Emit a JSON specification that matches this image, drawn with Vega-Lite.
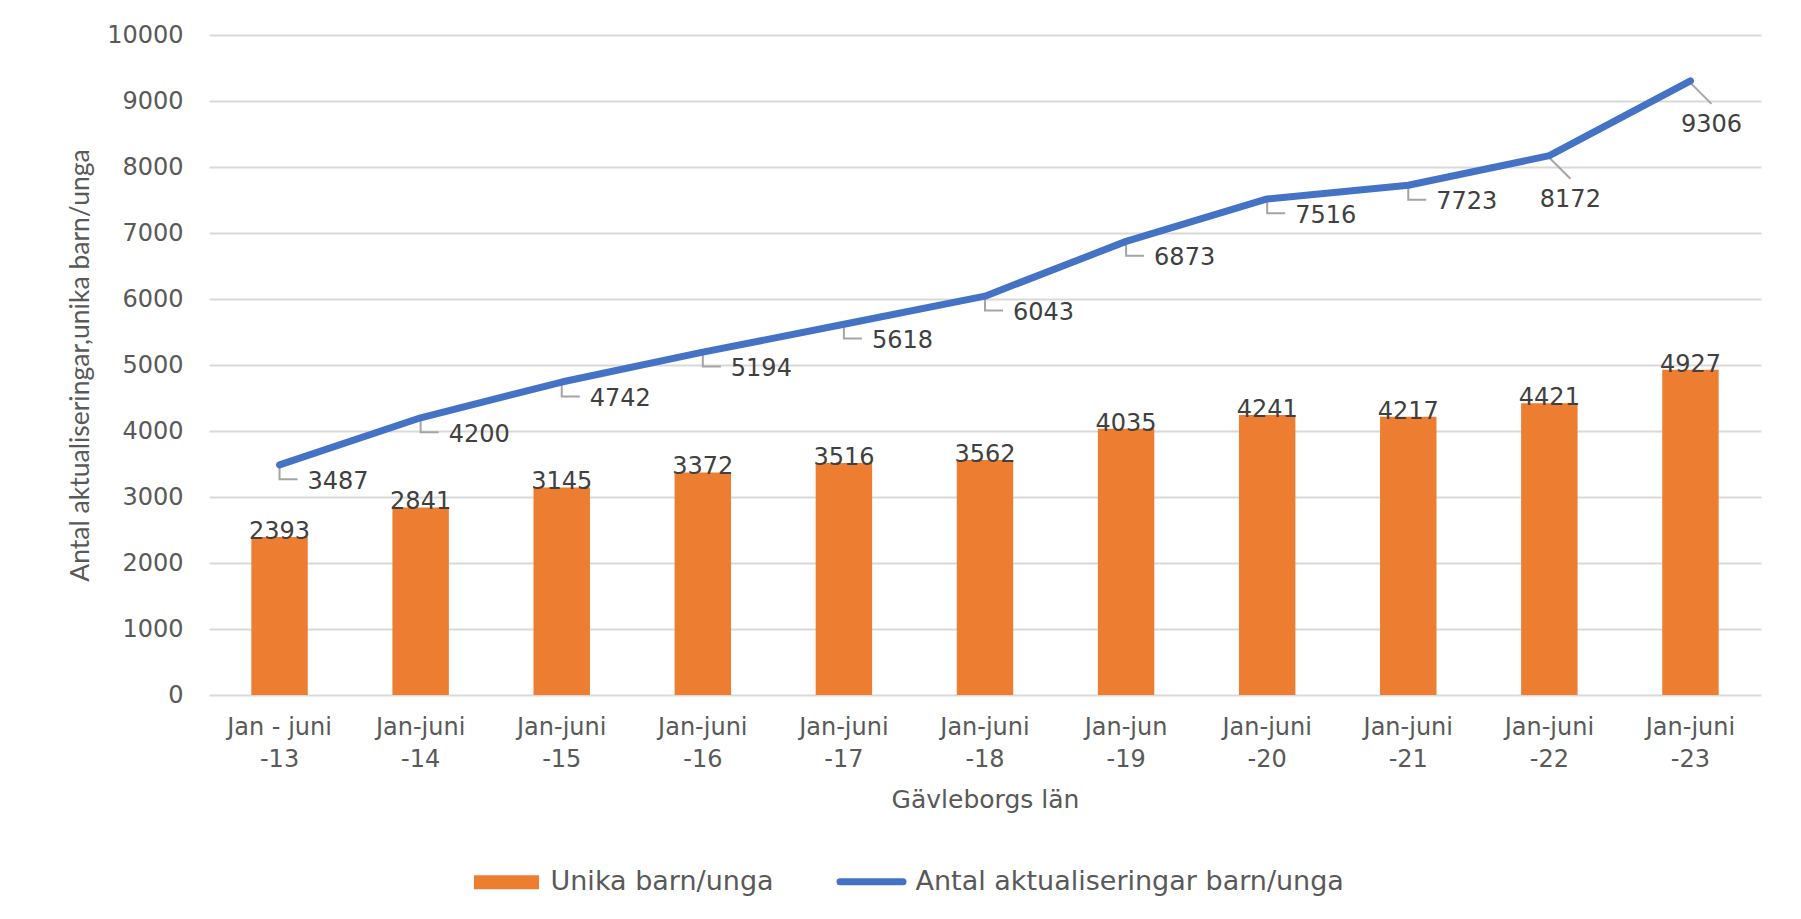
{
  "$schema": "https://vega.github.io/schema/vega-lite/v6.json",
  "autosize": "none",
  "width": 1552,
  "height": 660,
  "padding": {"left": 209, "top": 35, "right": 40, "bottom": 224},
  "background": "white",
  "config": {
    "view": {"stroke": null},
    "font": "DejaVu Sans"
  },
  "data": {
    "values": [
      {"period": "Jan - juni -13", "unika": 2393, "aktual": 3487},
      {"period": "Jan-juni -14", "unika": 2841, "aktual": 4200},
      {"period": "Jan-juni -15", "unika": 3145, "aktual": 4742},
      {"period": "Jan-juni -16", "unika": 3372, "aktual": 5194},
      {"period": "Jan-juni -17", "unika": 3516, "aktual": 5618},
      {"period": "Jan-juni -18", "unika": 3562, "aktual": 6043},
      {"period": "Jan-jun -19", "unika": 4035, "aktual": 6873},
      {"period": "Jan-juni -20", "unika": 4241, "aktual": 7516},
      {"period": "Jan-juni -21", "unika": 4217, "aktual": 7723},
      {"period": "Jan-juni -22", "unika": 4421, "aktual": 8172},
      {"period": "Jan-juni -23", "unika": 4927, "aktual": 9306}
    ]
  },
  "encoding": {
    "x": {
      "field": "period",
      "type": "nominal",
      "sort": null,
      "scale": {"paddingInner": 0.6, "paddingOuter": 0.3},
      "title": "Gävleborgs län",
      "axis": {
        "labelAngle": 0,
        "domain": false,
        "ticks": false,
        "grid": false,
        "labelExpr": "[slice(datum.label, 0, lastindexof(datum.label, ' ')), slice(datum.label, lastindexof(datum.label, ' ') + 1)]",
        "labelFont": "DejaVu Sans",
        "labelFontSize": 24,
        "labelColor": "#595959",
        "labelLineHeight": 32,
        "labelPadding": 20,
        "labelLimit": 300,
        "titleFont": "DejaVu Sans",
        "titleFontSize": 25,
        "titleFontWeight": "normal",
        "titleColor": "#595959",
        "titlePadding": 16
      }
    }
  },
  "layer": [
    {
      "mark": {"type": "bar"},
      "encoding": {
        "y": {
          "field": "unika",
          "type": "quantitative",
          "scale": {"domain": [0, 10000], "nice": false},
          "title": "Antal aktualiseringar,unika barn/unga",
          "axis": {
            "domain": false,
            "ticks": false,
            "grid": true,
            "gridColor": "#D9D9D9",
            "gridWidth": 2,
            "values": [0, 1000, 2000, 3000, 4000, 5000, 6000, 7000, 8000, 9000, 10000],
            "format": "d",
            "labelFont": "DejaVu Sans",
            "labelFontSize": 24,
            "labelColor": "#595959",
            "labelPadding": 26,
            "titleFont": "Lato",
            "titleFontSize": 26.5,
            "titleFontWeight": "normal",
            "titleColor": "#595959",
            "titlePadding": 12
          }
        },
        "color": {
          "datum": "Unika barn/unga",
          "type": "nominal",
          "scale": {"domain": ["Unika barn/unga", "Antal aktualiseringar barn/unga"], "range": ["#ED7D31", "#4472C4"]},
          "legend": {
            "orient": "none",
            "legendX": 284,
            "legendY": 833,
            "direction": "horizontal",
            "columns": 2,
            "title": null,
            "padding": 0,
            "symbolSize": 4900,
            "labelFont": "DejaVu Sans",
            "labelFontSize": 27,
            "labelColor": "#595959",
            "labelOffset": 30.5,
            "labelLimit": 600,
            "columnPadding": 52,
            "encode": {
              "symbols": {
                "update": {
                  "shape": {"signal": "datum.value === 'Unika barn/unga' ? 'M-0.93,-0.2H0.93V0.2H-0.93Z' : 'M-0.9,0H0.9'"},
                  "fill": {"signal": "datum.value === 'Unika barn/unga' ? '#ED7D31' : 'transparent'"},
                  "stroke": {"signal": "datum.value === 'Unika barn/unga' ? 'transparent' : '#4472C4'"},
                  "strokeWidth": {"signal": "datum.value === 'Unika barn/unga' ? 0 : 7"},
                  "strokeCap": {"value": "round"},
                  "opacity": {"value": 1},
                  "fillOpacity": {"value": 1},
                  "strokeOpacity": {"value": 1}
                }
              }
            }
          }
        }
      }
    },
    {
      "mark": {"type": "text", "align": "center", "baseline": "alphabetic", "dy": 2, "fontSize": 24, "font": "DejaVu Sans", "color": "#404040"},
      "encoding": {
        "y": {"field": "unika", "type": "quantitative", "title": "Antal aktualiseringar,unika barn/unga"},
        "text": {"field": "unika", "type": "quantitative", "format": "d"}
      }
    },
    {
      "transform": [{"filter": "datum.aktual < 8000"}],
      "mark": {"type": "point", "shape": "M0,0.05L0,0.8L1,0.8", "filled": false, "size": 1296, "stroke": "#A5A5A5", "strokeWidth": 2, "opacity": 1},
      "encoding": {
        "y": {"field": "aktual", "type": "quantitative", "title": "Antal aktualiseringar,unika barn/unga"}
      }
    },
    {
      "transform": [{"filter": "datum.aktual >= 8000"}],
      "mark": {"type": "point", "shape": "M0,0.1L1,1.1", "filled": false, "size": 1764, "stroke": "#A5A5A5", "strokeWidth": 2, "opacity": 1},
      "encoding": {
        "y": {"field": "aktual", "type": "quantitative", "title": "Antal aktualiseringar,unika barn/unga"}
      }
    },
    {
      "mark": {"type": "line", "strokeWidth": 7, "strokeCap": "round", "strokeJoin": "round"},
      "encoding": {
        "y": {"field": "aktual", "type": "quantitative", "title": "Antal aktualiseringar,unika barn/unga"},
        "color": {"datum": "Antal aktualiseringar barn/unga", "type": "nominal"}
      }
    },
    {
      "transform": [{"filter": "datum.aktual < 8000"}],
      "mark": {"type": "text", "align": "left", "baseline": "middle", "dx": 28, "dy": 17, "fontSize": 24, "font": "DejaVu Sans", "color": "#404040"},
      "encoding": {
        "y": {"field": "aktual", "type": "quantitative", "title": "Antal aktualiseringar,unika barn/unga"},
        "text": {"field": "aktual", "type": "quantitative", "format": "d"}
      }
    },
    {
      "transform": [{"filter": "datum.aktual >= 8000"}],
      "mark": {"type": "text", "align": "center", "baseline": "middle", "dx": 21, "dy": 44, "fontSize": 24, "font": "DejaVu Sans", "color": "#404040"},
      "encoding": {
        "y": {"field": "aktual", "type": "quantitative", "title": "Antal aktualiseringar,unika barn/unga"},
        "text": {"field": "aktual", "type": "quantitative", "format": "d"}
      }
    }
  ]
}
